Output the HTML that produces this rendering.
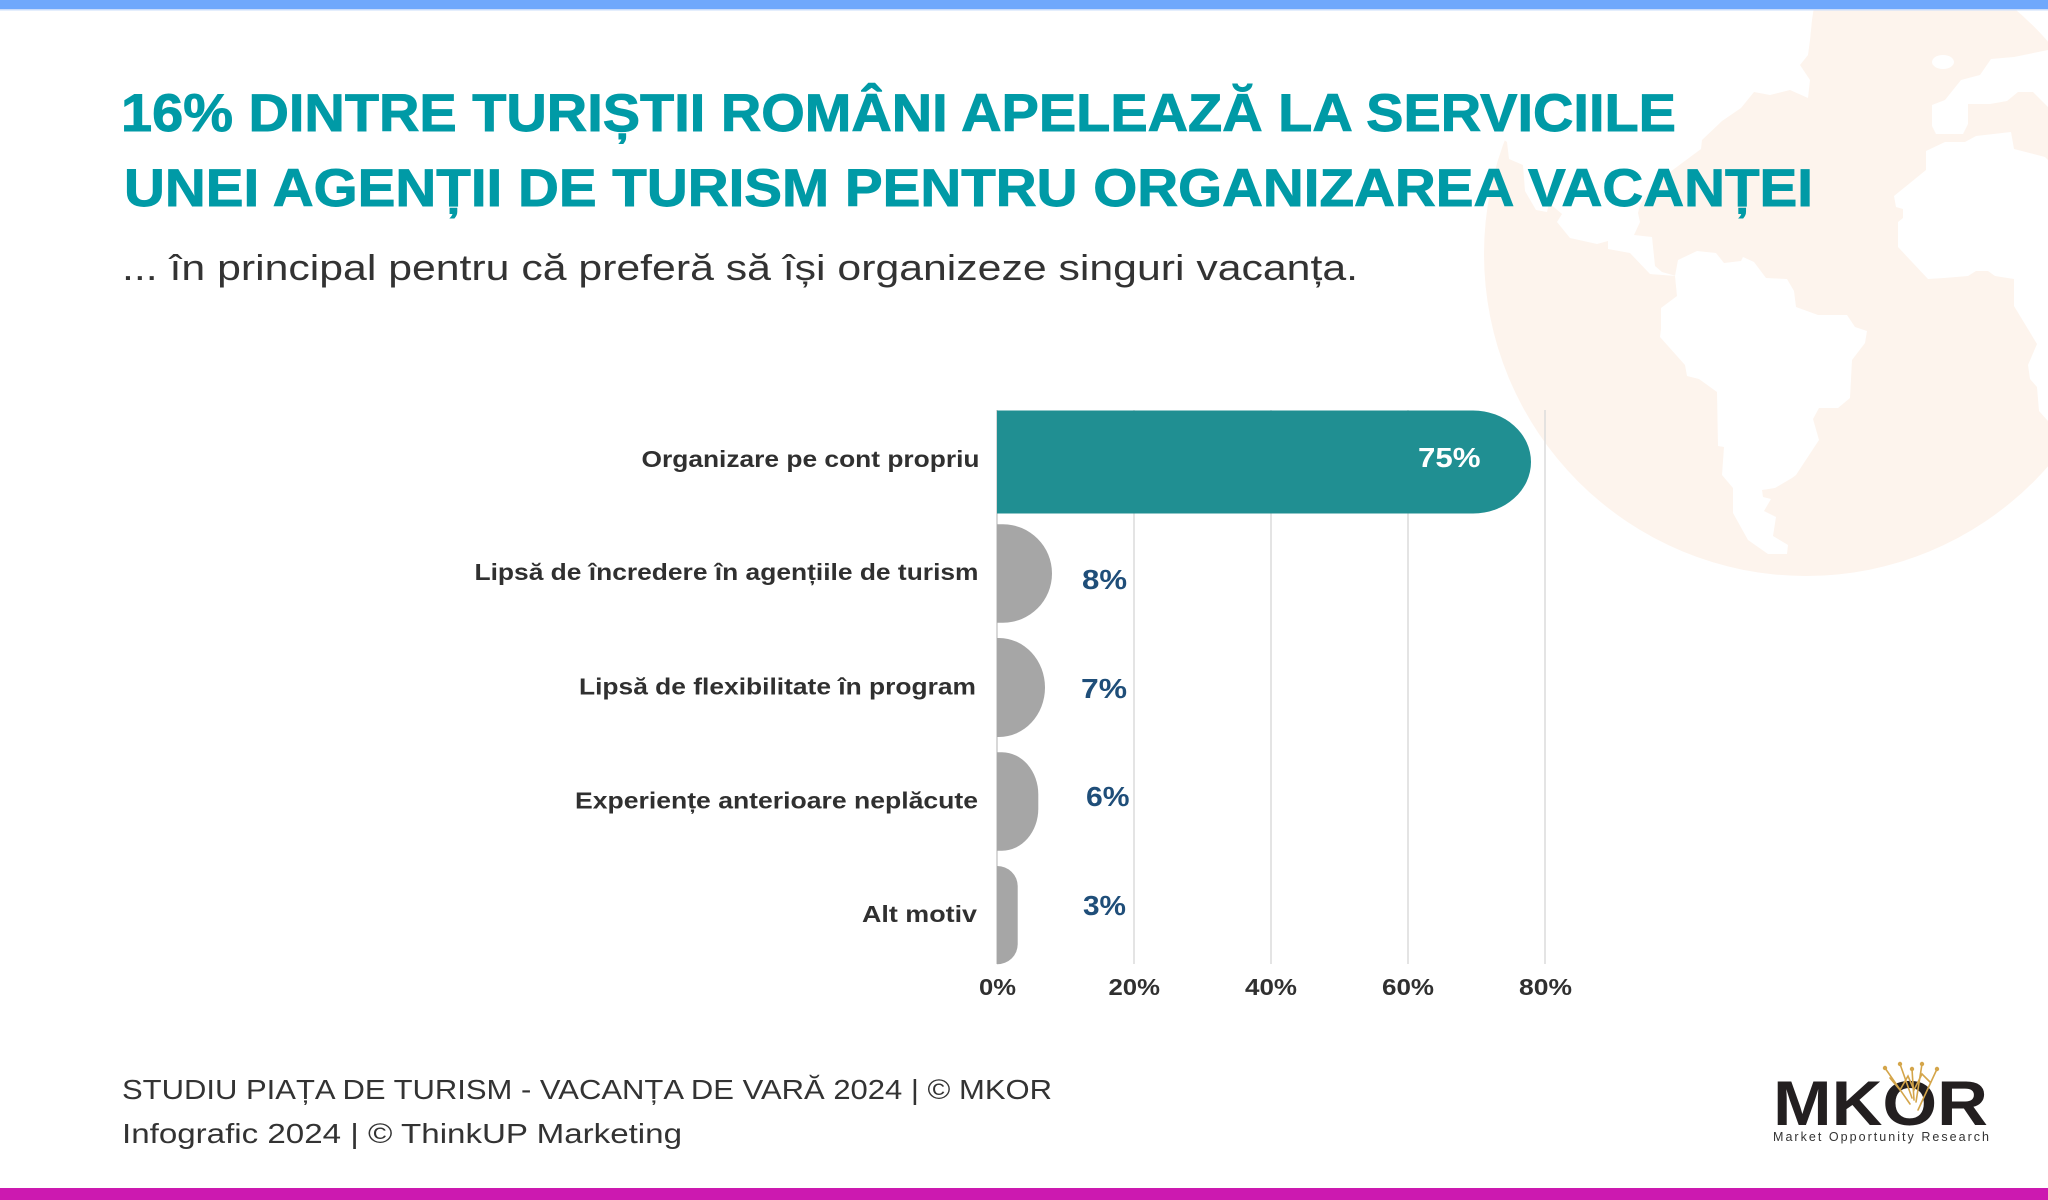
<!DOCTYPE html>
<html>
<head>
<meta charset="utf-8">
<style>
  html,body{margin:0;padding:0;background:#ffffff;}
  body{width:2048px;height:1200px;overflow:hidden;}
  svg{display:block;}
  text{font-family:"Liberation Sans","DejaVu Sans",sans-serif;}
</style>
</head>
<body>
<svg width="2048" height="1200" viewBox="0 0 2048 1200" xmlns="http://www.w3.org/2000/svg">
  <rect x="0" y="0" width="2048" height="1200" fill="#ffffff"/>

  <!-- globe background -->
  <circle cx="1806" cy="254" r="322" fill="#fdf4ed"/>
  <!-- North America -->
  <polygon fill="#ffffff" points="1490,0 1815,0 1812,20 1810,40 1808,55 1800,65 1810,80 1808,98 1790,90 1770,95 1754,92 1741,108 1722,121 1702,140 1701,149 1670,172 1650,190 1640,205 1638,213 1640,222 1634,235 1652,237 1655,266 1662,272 1676,276 1650,274 1630,253 1608,249 1608,241 1597,244 1570,238 1557,222 1562,214 1549,203 1547,212 1536,210 1525,191 1523,165 1509,159 1507,142 1490,130"/>
  <!-- South America -->
  <polygon fill="#ffffff" points="1678,260 1697,251 1716,253 1724,263 1741,261 1743,257 1754,262 1766,278 1787,279 1794,291 1796,307 1818,315 1847,315 1855,327 1867,331 1865,343 1852,360 1850,398 1838,408 1819,408 1813,419 1819,440 1796,475 1792,478 1775,488 1762,490 1763,497 1771,499 1764,511 1776,517 1773,536 1788,545 1787,554 1768,554 1748,540 1733,513 1733,488 1722,475 1724,447 1718,446 1717,392 1699,379 1687,376 1685,365 1660,337 1661,329 1661,308 1677,296 1675,276"/>
  <!-- Africa -->
  <polygon fill="#ffffff" points="1926,151 1945,142 1965,142 1976,136 2011,132 2014,149 2045,157 2048,160 2048,421 2039,411 2037,387 2030,379 2028,365 2037,344 2014,306 2014,279 1995,276 1988,271 1976,271 1968,276 1944,278 1928,279 1898,247 1898,222 1903,218 1903,209 1896,207 1894,196 1926,170"/>
  <!-- Europe -->
  <polygon fill="#ffffff" points="1932,105 1945,100 1961,80 1980,75 1991,59 2014,57 2048,50 2048,107 2033,92 2018,92 2007,101 1990,104 1968,104 1968,124 1963,134 1936,134 1932,126"/>
  <ellipse cx="1943" cy="62" rx="11" ry="7" fill="#ffffff"/>

  <!-- top bar -->
  <rect x="0" y="0" width="2048" height="9" fill="#6fa8fc"/>
  <rect x="0" y="9" width="2048" height="1.5" fill="#c9dcfb"/>
  <!-- bottom bar -->
  <rect x="0" y="1188" width="2048" height="12" fill="#cc19b0"/>

  <!-- title -->
  <text x="121" y="131" font-size="53" font-weight="bold" fill="#009aa6" stroke="#009aa6" stroke-width="0.9" textLength="1555" lengthAdjust="spacingAndGlyphs">16% DINTRE TURIȘTII ROMÂNI APELEAZĂ LA SERVICIILE</text>
  <text x="124" y="206" font-size="53" font-weight="bold" fill="#009aa6" stroke="#009aa6" stroke-width="0.9" textLength="1689" lengthAdjust="spacingAndGlyphs">UNEI AGENȚII DE TURISM PENTRU ORGANIZAREA VACANȚEI</text>
  <!-- subtitle -->
  <text x="122" y="280" font-size="36" fill="#333333" textLength="1236" lengthAdjust="spacingAndGlyphs">... în principal pentru că preferă să își organizeze singuri vacanța.</text>

  <!-- gridlines -->
  <g stroke="#dcdcdc" stroke-width="1.5">
    <line x1="1134" y1="410" x2="1134" y2="964"/>
    <line x1="1271" y1="410" x2="1271" y2="964"/>
    <line x1="1408" y1="410" x2="1408" y2="964"/>
    <line x1="1545" y1="410" x2="1545" y2="964"/>
  </g>
  <line x1="997" y1="410" x2="997" y2="964" stroke="#bdbdbd" stroke-width="1.2"/>

  <!-- bars -->
  <path d="M997,410.5 H1473 A58,51.5 0 0 1 1473,513.5 H997 Z" fill="#208f92"/>
  <path d="M997,524.3 H1003 A49,49.2 0 0 1 1003,622.7 H997 Z" fill="#a6a6a6"/>
  <path d="M997,638 H999 A46,49.5 0 0 1 999,737 H997 Z" fill="#a6a6a6"/>
  <path d="M997,752.3 H1002 A36.3,42 0 0 1 1038.3,794.3 V808.7 A36.3,42 0 0 1 1002,850.7 H997 Z" fill="#a6a6a6"/>
  <path d="M997,866 A20.7,20 0 0 1 1017.7,886 V944.3 A20.7,20 0 0 1 997,964.3 Z" fill="#a6a6a6"/>

  <!-- category labels -->
  <g font-size="23.5" font-weight="bold" fill="#303030">
    <text x="641.5" y="467" textLength="338" lengthAdjust="spacingAndGlyphs">Organizare pe cont propriu</text>
    <text x="474.5" y="580" textLength="504" lengthAdjust="spacingAndGlyphs">Lipsă de încredere în agențiile de turism</text>
    <text x="579" y="694.5" textLength="397" lengthAdjust="spacingAndGlyphs">Lipsă de flexibilitate în program</text>
    <text x="575" y="808.5" textLength="403" lengthAdjust="spacingAndGlyphs">Experiențe anterioare neplăcute</text>
    <text x="862" y="922" textLength="115" lengthAdjust="spacingAndGlyphs">Alt motiv</text>
  </g>

  <!-- value labels -->
  <text x="1418" y="467" font-size="28" font-weight="bold" fill="#ffffff" textLength="62.5" lengthAdjust="spacingAndGlyphs">75%</text>
  <g font-size="28" font-weight="bold" fill="#1f4e79">
    <text x="1082" y="589" textLength="45" lengthAdjust="spacingAndGlyphs">8%</text>
    <text x="1081" y="698" textLength="46" lengthAdjust="spacingAndGlyphs">7%</text>
    <text x="1086" y="806" textLength="43.5" lengthAdjust="spacingAndGlyphs">6%</text>
    <text x="1083" y="915" textLength="43" lengthAdjust="spacingAndGlyphs">3%</text>
  </g>

  <!-- axis tick labels -->
  <g font-size="23" font-weight="bold" fill="#303030">
    <text x="979" y="995" textLength="37" lengthAdjust="spacingAndGlyphs">0%</text>
    <text x="1108.5" y="995" textLength="51.5" lengthAdjust="spacingAndGlyphs">20%</text>
    <text x="1245" y="995" textLength="52" lengthAdjust="spacingAndGlyphs">40%</text>
    <text x="1382" y="995" textLength="52" lengthAdjust="spacingAndGlyphs">60%</text>
    <text x="1519" y="995" textLength="53" lengthAdjust="spacingAndGlyphs">80%</text>
  </g>

  <!-- footer -->
  <text x="122" y="1099" font-size="28" fill="#333333" textLength="930" lengthAdjust="spacingAndGlyphs">STUDIU PIAȚA DE TURISM - VACANȚA DE VARĂ 2024 | © MKOR</text>
  <text x="122" y="1143" font-size="28" fill="#333333" textLength="560" lengthAdjust="spacingAndGlyphs">Infografic 2024 | © ThinkUP Marketing</text>

  <!-- MKOR logo -->
  <text x="1773" y="1125" font-size="63" font-weight="bold" fill="#231f20" textLength="215" lengthAdjust="spacingAndGlyphs">MKOR</text>
  <g stroke="#d4a54a" stroke-width="1.6" fill="none" stroke-linecap="round">
    <line x1="1885" y1="1068" x2="1910" y2="1104"/>
    <line x1="1900" y1="1064" x2="1912" y2="1098"/>
    <line x1="1912" y1="1069" x2="1914" y2="1100"/>
    <line x1="1922" y1="1064" x2="1916" y2="1102"/>
    <line x1="1937" y1="1069" x2="1918" y2="1110"/>
    <polyline points="1890,1078 1900,1090 1908,1076 1914,1090 1922,1074 1930,1082"/>
  </g>
  <g fill="#d4a54a">
    <circle cx="1885" cy="1068" r="2.2"/>
    <circle cx="1900" cy="1064" r="2.2"/>
    <circle cx="1912" cy="1069" r="2.2"/>
    <circle cx="1922" cy="1064" r="2.2"/>
    <circle cx="1937" cy="1069" r="2.2"/>
  </g>
  <text x="1773" y="1141" font-size="12.5" fill="#333333" textLength="216" lengthAdjust="spacing">Market Opportunity Research</text>
</svg>
</body>
</html>
